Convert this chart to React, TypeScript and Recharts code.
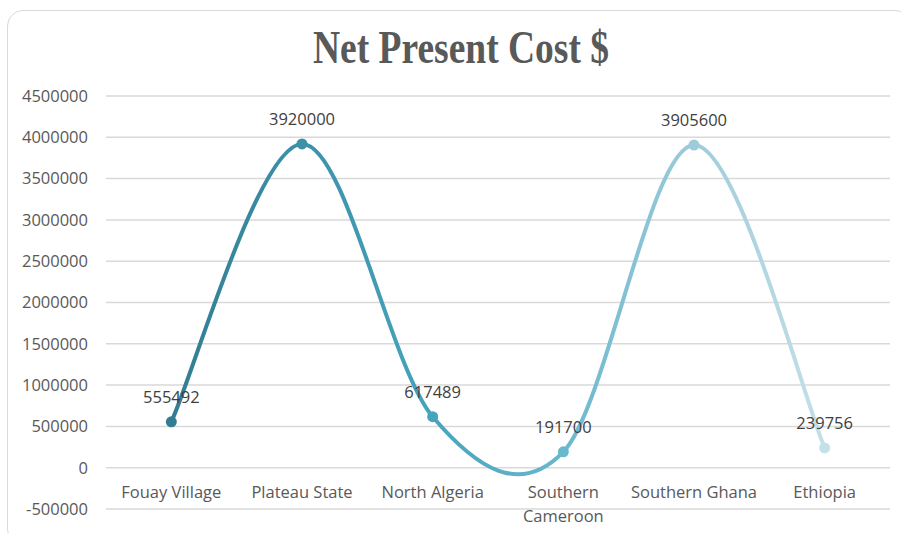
import React from 'react';
import { LineChart, Line, XAxis, YAxis, CartesianGrid, LabelList } from 'recharts';

const sites = ['Fouay Village', 'Plateau State', 'North Algeria', 'Southern Cameroon', 'Southern Ghana', 'Ethiopia'];
const npc = [555492, 3920000, 617489, 191700, 3905600, 239756];
const yTicks = [-500000, 0, 500000, 1000000, 1500000, 2000000, 2500000, 3000000, 3500000, 4000000, 4500000];
const pointColors = ['#327d92', '#3c91a9', '#47a4bd', '#6ab8cd', '#9ecbdb', '#c4e0e8'];

const data = sites.map((site, i) => ({ site, value: npc[i] }));

const FONT = '"Open Sans", "Noto Sans", sans-serif';

// Excel-style smoothed line (Catmull-Rom, tension 1/6)
const excelSmooth = (context: any) => {
  let xs: number[] = [];
  let ys: number[] = [];
  return {
    areaStart() {},
    areaEnd() {},
    lineStart() {
      xs = [];
      ys = [];
    },
    lineEnd() {
      const n = xs.length;
      if (!n) return;
      context.moveTo(xs[0], ys[0]);
      for (let i = 0; i < n - 1; i++) {
        const a = Math.max(i - 1, 0);
        const d = Math.min(i + 2, n - 1);
        const c1x = xs[i] + (xs[i + 1] - xs[a]) / 6;
        const c1y = ys[i] + (ys[i + 1] - ys[a]) / 6;
        const c2x = xs[i + 1] - (xs[d] - xs[i]) / 6;
        const c2y = ys[i + 1] - (ys[d] - ys[i]) / 6;
        context.bezierCurveTo(c1x, c1y, c2x, c2y, xs[i + 1], ys[i + 1]);
      }
    },
    point(x: number, y: number) {
      xs.push(+x);
      ys.push(+y);
    },
  };
};

const SiteTick = (props: any) => {
  const { x, y, payload } = props;
  const label: string = payload.value;
  let lines = [label];
  if (label.length > 15) {
    const k = label.lastIndexOf(' ');
    lines = [label.slice(0, k), label.slice(k + 1)];
  }
  return (
    <g>
      {lines.map((l, i) => (
        <text key={i} x={x} y={y - 11 + i * 24} textAnchor="middle" fill="#595959" fontSize={16.5} fontFamily={FONT}>
          {l}
        </text>
      ))}
    </g>
  );
};

const SiteDot = (props: any) => {
  const { cx, cy, index } = props;
  return <circle cx={cx} cy={cy} r={5.5} fill={pointColors[index]} stroke="none" />;
};

export default function App() {
  return (
    <div style={{ position: 'absolute', left: 0, top: 0, width: 901, height: 533, background: '#fff', overflow: 'hidden' }}>
      <div
        style={{
          position: 'absolute',
          left: 7,
          top: 10,
          width: 905,
          height: 535,
          border: '1.5px solid #d9d9d9',
          borderRadius: 16,
          boxSizing: 'border-box',
        }}
      />
      <svg width={0} height={0} style={{ position: 'absolute' }}>
        <defs>
          <linearGradient id="npcGrad" x1="0" y1="0" x2="1" y2="0">
            {pointColors.map((c, i) => (
              <stop key={i} offset={i / (pointColors.length - 1)} stopColor={c} />
            ))}
          </linearGradient>
        </defs>
      </svg>
      <svg width={901} height={90} style={{ position: 'absolute', left: 0, top: 0 }}>
        <text
          x={461}
          y={63}
          textAnchor="middle"
          fontFamily='"Liberation Serif", "Times New Roman", serif'
          fontWeight="bold"
          fontSize={47}
          fill="#595959"
          textLength={296}
          lengthAdjust="spacingAndGlyphs"
        >
          Net Present Cost $
        </text>
      </svg>
      <div style={{ position: 'absolute', left: 0, top: 0 }}>
        <LineChart width={901} height={533} data={data} margin={{ top: 96, right: 11, bottom: 0, left: 0 }}>
          <CartesianGrid vertical={false} stroke="#d9d9d9" strokeWidth={1.5} />
          <XAxis
            dataKey="site"
            scale="band"
            height={24}
            axisLine={false}
            tickLine={false}
            tickSize={0}
            tickMargin={0}
            interval={0}
            tick={<SiteTick />}
          />
          <YAxis
            width={106}
            domain={[-500000, 4500000]}
            ticks={yTicks}
            axisLine={false}
            tickLine={false}
            tickSize={0}
            tickMargin={18}
            tick={{ fill: '#595959', fontSize: 16.5, fontFamily: FONT }}
            interval={0}
          />
          <Line
            dataKey="value"
            type={excelSmooth as any}
            stroke="url(#npcGrad)"
            strokeWidth={4}
            dot={<SiteDot />}
            activeDot={false}
            isAnimationActive={false}
          >
            <LabelList dataKey="value" position="top" offset={19} fill="#404040" fontSize={16.5} fontFamily={FONT} />
          </Line>
        </LineChart>
      </div>
    </div>
  );
}
